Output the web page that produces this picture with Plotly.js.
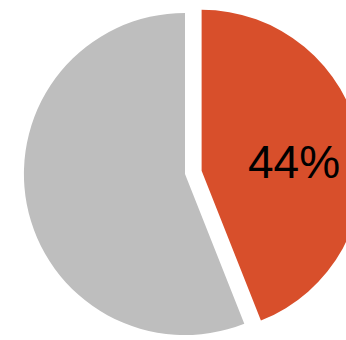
<!DOCTYPE html>
<html>
<head>
<meta charset="utf-8">
<script src="https://cdn.plot.ly/plotly-3.0.1.min.js"></script>
<style>
html,body{margin:0;padding:0;background:#fff;overflow:hidden;width:346px;height:340px;}
#chart{position:absolute;left:0;top:-20px;width:420px;height:420px;}
</style>
</head>
<body>
<div id="chart"></div>
<script>
const labels = ["Share", "Rest"];
const values = [44, 56];
const colors = ["#D84F2B", "#BEBEBE"];
const pulls = [0.105, 0];

const total = values.reduce((a, b) => a + b, 0);
const pctText = Math.round(values[0] / total * 100) + "%";

Plotly.newPlot("chart", [{
  type: "pie",
  labels: labels,
  values: values,
  sort: false,
  direction: "clockwise",
  rotation: 0,
  pull: pulls,
  marker: {colors: colors, line: {width: 0}},
  textinfo: "none",
  hoverinfo: "none",
  showlegend: false,
  domain: {x: [0.01667, 0.8643], y: [0.1143, 0.9619]}
}], {
  width: 420,
  height: 420,
  margin: {l: 0, r: 0, t: 0, b: 0},
  paper_bgcolor: "#ffffff",
  showlegend: false,
  annotations: [{
    xref: "paper", yref: "paper",
    x: 0.7, y: 0.5667,
    xanchor: "center", yanchor: "middle",
    text: pctText,
    showarrow: false,
    font: {family: "Liberation Sans, Arial, sans-serif", size: 46, color: "#000000"}
  }]
}, {staticPlot: true});
</script>
</body>
</html>
